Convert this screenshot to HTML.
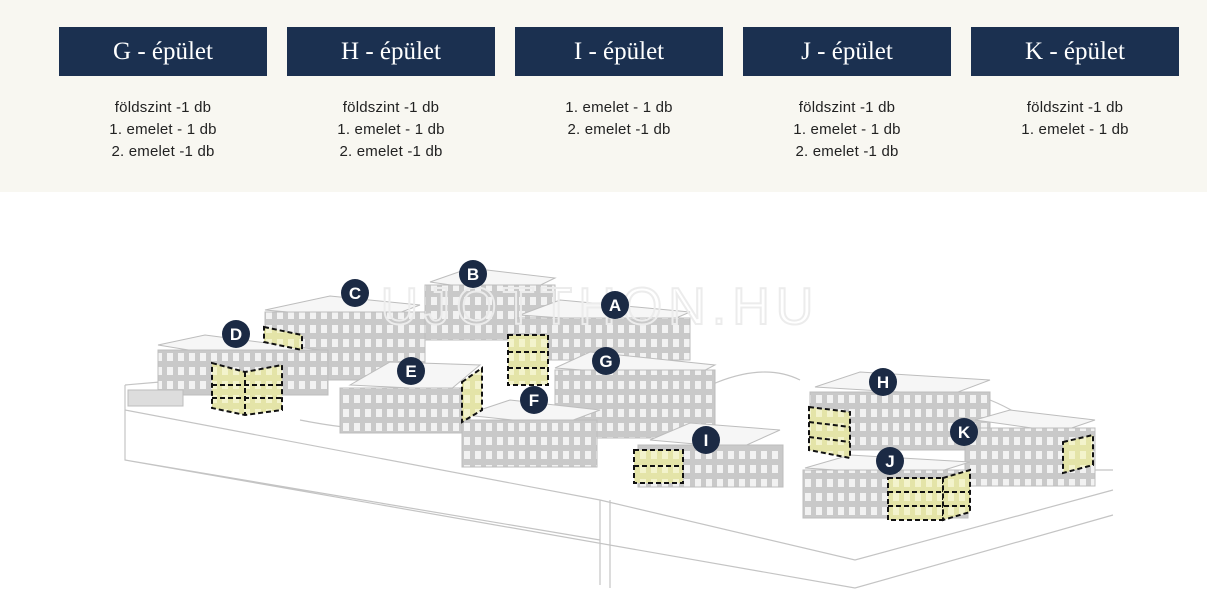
<!DOCTYPE html>
<html><head><meta charset="utf-8">
<style>
*{margin:0;padding:0;box-sizing:border-box}
body{width:1207px;height:610px;background:#fff;overflow:hidden;font-family:"Liberation Sans",sans-serif;position:relative}
.top{position:absolute;left:0;top:0;width:1207px;height:192px;background:#f8f7f1}
.col{position:absolute;top:27px;width:208px;text-align:center}
.btn{height:49px;background:#1b3050;color:#fff;font-family:"Liberation Serif",serif;font-size:25px;line-height:49px}
.txt{margin-top:21px;font-size:15px;line-height:22px;color:#222;letter-spacing:.2px}
svg{position:absolute;left:0;top:192px}
</style></head><body>
<div class="top">
<div class="col" style="left:59px"><div class="btn">G - épület</div><div class="txt">földszint -1 db<br>1. emelet - 1 db<br>2. emelet -1 db</div></div>
<div class="col" style="left:287px"><div class="btn">H - épület</div><div class="txt">földszint -1 db<br>1. emelet - 1 db<br>2. emelet -1 db</div></div>
<div class="col" style="left:515px"><div class="btn">I - épület</div><div class="txt">1. emelet - 1 db<br>2. emelet -1 db</div></div>
<div class="col" style="left:743px"><div class="btn">J - épület</div><div class="txt">földszint -1 db<br>1. emelet - 1 db<br>2. emelet -1 db</div></div>
<div class="col" style="left:971px"><div class="btn">K - épület</div><div class="txt">földszint -1 db<br>1. emelet - 1 db</div></div>
</div>
<svg width="1207" height="418" viewBox="0 192 1207 418">
<defs>
<pattern id="w" width="11" height="14" patternUnits="userSpaceOnUse">
<rect width="11" height="14" fill="#c9c9c9"/><rect x="2" y="3" width="6" height="8" fill="#f2f2f2"/>
</pattern>
<pattern id="y" width="11" height="14" patternUnits="userSpaceOnUse">
<rect width="11" height="14" fill="#e4e4a8"/><rect x="2" y="3" width="6" height="8" fill="#f3f3cc"/>
</pattern>
</defs>
<g fill="none" stroke="#c4c4c4" stroke-width="1.2">
<path d="M125 385 L160 382 M125 385 L125 460 L855 588 L1113 515 M125 410 L600 500 L855 560 L1113 490 M600 500 L600 585 M610 500 L610 588 M125 460 L600 540"/>
<path d="M300 420 Q400 440 470 420 M700 390 Q760 360 800 380 M990 400 Q1040 420 1080 470 L1113 470"/>
</g>
<g stroke="#bdbdbd" stroke-width="1">
<polygon points="430,282 470,268 555,278 520,295" fill="#f6f6f6"/>
<rect x="425" y="285" width="130" height="55" fill="url(#w)"/>
<polygon points="265,310 330,296 420,305 380,320" fill="#f6f6f6"/>
<rect x="265" y="312" width="160" height="68" fill="url(#w)"/>
<polygon points="520,315 560,300 690,312 660,325" fill="#f6f6f6"/>
<rect x="515" y="318" width="175" height="42" fill="url(#w)"/>
<polygon points="158,345 205,335 320,350 280,365" fill="#f6f6f6"/>
<rect x="158" y="350" width="170" height="45" fill="url(#w)"/>
<rect x="128" y="390" width="55" height="16" fill="#ddd"/>
<polygon points="555,368 590,352 715,365 690,378" fill="#f6f6f6"/>
<rect x="555" y="370" width="160" height="68" fill="url(#w)"/>
<polygon points="350,385 390,362 480,365 450,390" fill="#f6f6f6"/>
<rect x="340" y="388" width="130" height="45" fill="url(#w)"/>
<polygon points="465,415 510,400 600,410 560,425" fill="#f6f6f6"/>
<rect x="462" y="420" width="135" height="47" fill="url(#w)"/>
<polygon points="650,440 690,423 780,430 740,448" fill="#f6f6f6"/>
<rect x="638" y="445" width="145" height="42" fill="url(#w)"/>
<polygon points="815,387 860,372 990,380 950,395" fill="#f6f6f6"/>
<rect x="810" y="392" width="180" height="58" fill="url(#w)"/>
<polygon points="975,420 1010,410 1095,420 1060,432" fill="#f6f6f6"/>
<rect x="965" y="428" width="130" height="58" fill="url(#w)"/>
<polygon points="805,468 850,455 970,462 925,476" fill="#f6f6f6"/>
<rect x="803" y="470" width="165" height="48" fill="url(#w)"/>
</g>
<g fill="url(#y)" stroke="#111" stroke-width="2" stroke-dasharray="5,3">
<polygon points="212,363 245,372 282,365 282,410 245,415 212,408"/>
<path d="M245,372 L245,415 M212,385 L282,385 M212,398 L282,398" fill="none"/>
<polygon points="264,327 302,335 302,350 264,342"/>
<rect x="508" y="335" width="40" height="50"/>
<path d="M508,352 H548 M508,368 H548" fill="none"/>
<polygon points="462,382 482,368 482,410 462,422"/>
<rect x="634" y="450" width="49" height="33"/>
<path d="M634,466 H683" fill="none"/>
<polygon points="809,407 850,412 850,458 809,450"/>
<path d="M809,422 L850,427 M809,437 L850,442" fill="none"/>
<rect x="888" y="478" width="55" height="42"/>
<polygon points="943,478 970,470 970,512 943,520"/>
<path d="M888,492 H970 M888,506 H970" fill="none"/>
<polygon points="1063,442 1093,435 1093,465 1063,473"/>
</g>
<text x="600" y="324" text-anchor="middle" font-family="Liberation Sans" font-size="52" fill="none" stroke="#ececec" stroke-width="2" letter-spacing="6">UJOTTHON.HU</text>
<g font-family="Liberation Sans" font-weight="bold" font-size="17" fill="#fff" text-anchor="middle">
<g fill="#1b2a44"><circle cx="236" cy="334" r="14"/><circle cx="355" cy="293" r="14"/><circle cx="473" cy="274" r="14"/><circle cx="615" cy="305" r="14"/><circle cx="606" cy="361" r="14"/><circle cx="411" cy="371" r="14"/><circle cx="534" cy="400" r="14"/><circle cx="706" cy="440" r="14"/><circle cx="883" cy="382" r="14"/><circle cx="890" cy="461" r="14"/><circle cx="964" cy="432" r="14"/></g>
<text x="236" y="340">D</text><text x="355" y="299">C</text><text x="473" y="280">B</text><text x="615" y="311">A</text><text x="606" y="367">G</text><text x="411" y="377">E</text><text x="534" y="406">F</text><text x="706" y="446">I</text><text x="883" y="388">H</text><text x="890" y="467">J</text><text x="964" y="438">K</text>
</g>
</svg>
</body></html>
